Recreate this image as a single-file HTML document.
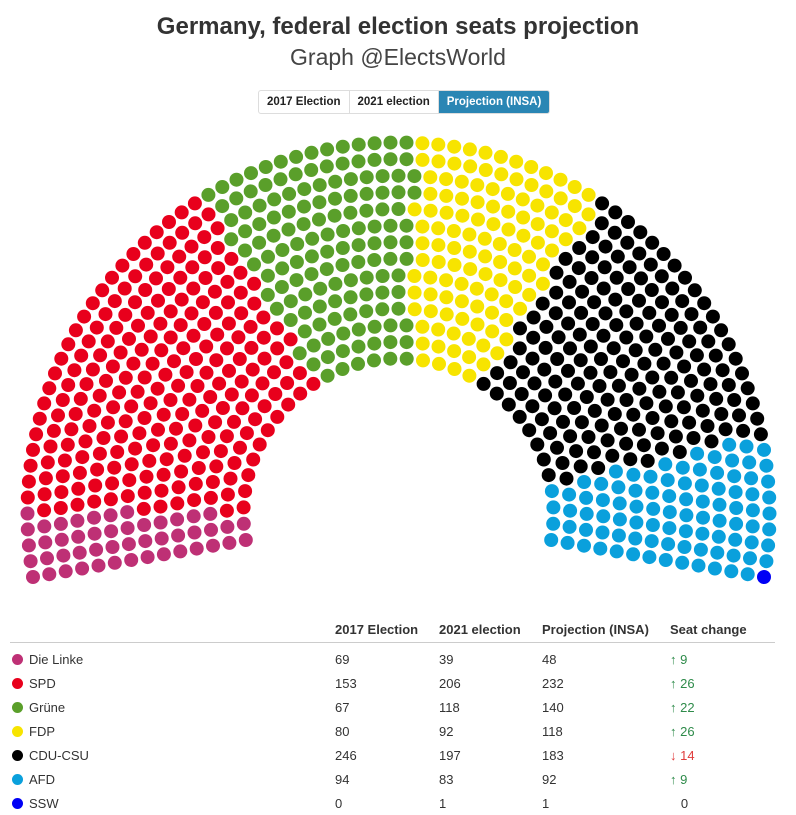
<!DOCTYPE html>
<html><head><meta charset="utf-8"><style>
body{margin:0;width:796px;height:810px;background:#fff;font-family:"Liberation Sans",sans-serif;color:#333;position:relative;overflow:hidden}
.t{position:absolute;left:0;width:796px;text-align:center}
#title{top:13px;font-size:24px;font-weight:bold;color:#333}
#sub{top:44px;font-size:23px;color:#444}
#btns{position:absolute;left:258px;top:90px;height:22px;display:flex;border:1px solid #ddd;border-radius:3px;overflow:hidden;font-size:11.5px;font-weight:bold}
#btns div{padding:0 8px;line-height:22px;border-right:1px solid #ddd;color:#222}
#btns .on{background:#2a86b4;color:#fff;border:none}
table{position:absolute;left:10px;top:616px;width:765px;border-collapse:collapse;font-size:13px}
th{text-align:left;font-weight:bold;height:26px;border-bottom:1px solid #ccc;padding:0}
td{height:24px;padding:0}
tr.first td{padding-top:4px}
.dot{display:inline-block;width:11px;height:11px;border-radius:50%;margin:0 6px 0 2px;vertical-align:-1px}
.up{color:#2e8b4a}.dn{color:#e03c3c}
</style></head><body>
<div class="t" id="title">Germany, federal election seats projection</div>
<div class="t" id="sub">Graph @ElectsWorld</div>
<div id="btns">
<div>2017 Election</div>
<div>2021 election</div>
<div class="on">Projection (INSA)</div>
</div>
<svg id="chart" width="796" height="600" style="position:absolute;left:0;top:0"></svg>
<table>
<tr><th style="width:325px"></th><th style="width:104px">2017 Election</th><th style="width:103px">2021 election</th><th style="width:128px">Projection (INSA)</th><th>Seat change</th></tr>
<tr class="first"><td><span class="dot" style="background:#be3075"></span>Die Linke</td><td>69</td><td>39</td><td>48</td><td class="up">↑ 9</td></tr>
<tr><td><span class="dot" style="background:#e8001c"></span>SPD</td><td>153</td><td>206</td><td>232</td><td class="up">↑ 26</td></tr>
<tr><td><span class="dot" style="background:#5a9f2a"></span>Grüne</td><td>67</td><td>118</td><td>140</td><td class="up">↑ 22</td></tr>
<tr><td><span class="dot" style="background:#f7e400"></span>FDP</td><td>80</td><td>92</td><td>118</td><td class="up">↑ 26</td></tr>
<tr><td><span class="dot" style="background:#000"></span>CDU-CSU</td><td>246</td><td>197</td><td>183</td><td class="dn">↓ 14</td></tr>
<tr><td><span class="dot" style="background:#0aa0dc"></span>AFD</td><td>94</td><td>83</td><td>92</td><td class="up">↑ 9</td></tr>
<tr><td><span class="dot" style="background:#0000f5"></span>SSW</td><td>0</td><td>1</td><td>1</td><td>&nbsp;&nbsp;&nbsp;0</td></tr>
</table>
<script>
const parties=["Die Linke","SPD","Grüne","FDP","CDU-CSU","AFD","SSW"];
const seats=[48,232,140,118,183,92,1];
const colors=["#be3075","#e8001c","#5a9f2a","#f7e400","#000000","#0aa0dc","#0000f5"];
const svg=document.getElementById('chart');
const NS="http://www.w3.org/2000/svg";
const cx=398.5,cy=513.5,rIn=155,rOut=371,rows=14;
const ext=9.86*Math.PI/180;
const a0=Math.PI+ext,a1=-ext;
const total=seats.reduce((a,b)=>a+b,0);
let radii=[];for(let i=0;i<rows;i++)radii.push(rIn+(rOut-rIn)*i/(rows-1));
const sumR=radii.reduce((a,b)=>a+b,0);
let counts=radii.map(r=>Math.round(total*r/sumR));
let diff=total-counts.reduce((a,b)=>a+b,0);
let k=rows-1;while(diff!==0){counts[k]+=diff>0?1:-1;diff+=diff>0?-1:1;k=(k-1+rows)%rows;}
let pos=[];
radii.forEach((r,i)=>{const n=counts[i];for(let j=0;j<n;j++){const t=j/(n-1);pos.push({a:a0+(a1-a0)*t,t:Math.round(t*1e6),r});}});
pos.sort((p,q)=>(p.t-q.t)||(p.r-q.r));
let idx=0;
seats.forEach((s,pi)=>{for(let j=0;j<s;j++){const p=pos[idx++];
const c=document.createElementNS(NS,'circle');
c.setAttribute('cx',(cx+p.r*Math.cos(p.a)).toFixed(1));
c.setAttribute('cy',(cy-p.r*Math.sin(p.a)).toFixed(1));
c.setAttribute('r',7);c.setAttribute('fill',colors[pi]);


svg.appendChild(c);}});
</script>
</body></html>
